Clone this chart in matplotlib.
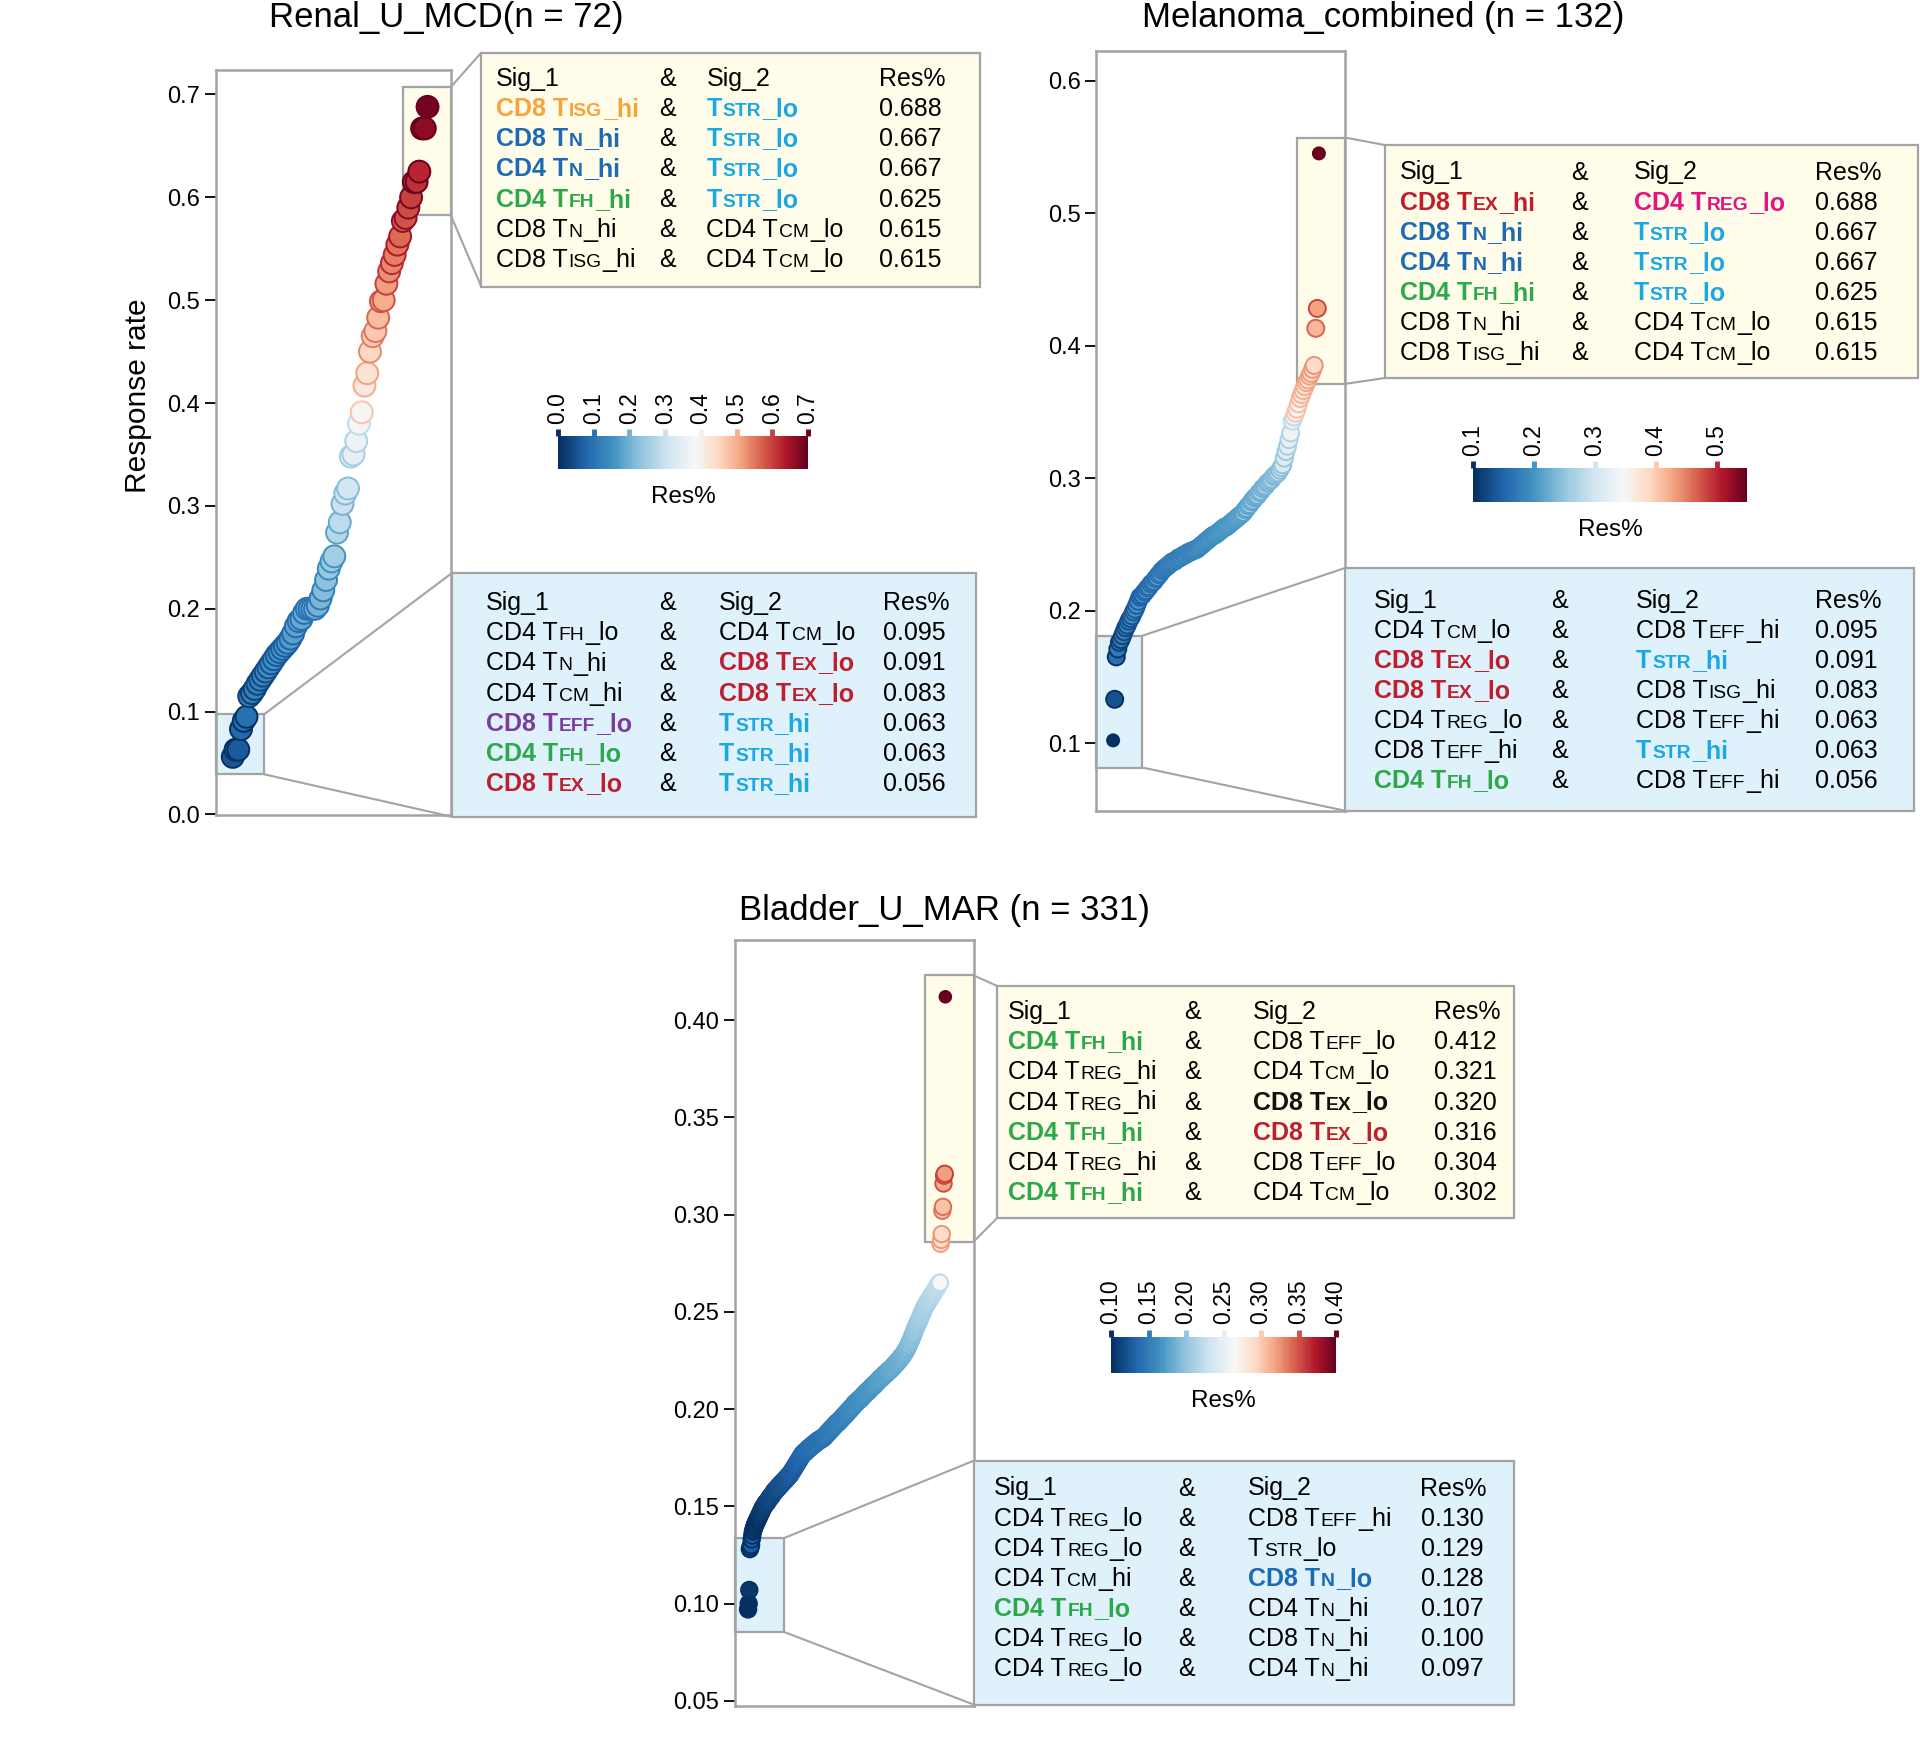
import re
import numpy as np
import matplotlib
matplotlib.use('Agg')
import matplotlib.pyplot as plt
from matplotlib.colors import Normalize, ListedColormap
from matplotlib.patches import Rectangle, ConnectionPatch

plt.rcParams['font.family'] = ['Liberation Sans', 'DejaVu Sans']

# ---------------- data (sorted response rates) ----------------
renal_res = [0.056, 0.063, 0.063, 0.083, 0.091, 0.095,
             0.115, 0.118, 0.122, 0.127, 0.131, 0.135, 0.139, 0.143, 0.147, 0.151, 0.155, 0.158,
             0.161, 0.164, 0.167, 0.171, 0.176, 0.183, 0.188, 0.190,
             0.196, 0.200, 0.200, 0.200, 0.200, 0.203,
             0.210, 0.218, 0.228, 0.239, 0.246, 0.251,
             0.274, 0.284, 0.302, 0.312, 0.317,
             0.348, 0.350, 0.363,
             0.380, 0.391, 0.417, 0.429, 0.450,
             0.465, 0.470, 0.483, 0.499, 0.500, 0.516,
             0.528, 0.536, 0.544, 0.554, 0.562, 0.577,
             0.580, 0.590, 0.600, 0.615, 0.615, 0.625,
             0.667, 0.667, 0.688]

melanoma_res = [0.102, 0.133, 0.165, 0.171, 0.176,
                0.178, 0.181, 0.184, 0.187, 0.189, 0.192, 0.194, 0.196, 0.199, 0.201, 0.204, 0.207, 0.210,
                0.211, 0.212, 0.214, 0.215, 0.217, 0.218, 0.220, 0.221, 0.222, 0.224, 0.225, 0.227, 0.228, 0.230, 0.231,
                0.232, 0.233, 0.234, 0.235, 0.236, 0.237, 0.237, 0.238, 0.239, 0.240, 0.240, 0.241, 0.242, 0.242, 0.243, 0.244, 0.244,
                0.245, 0.245, 0.246, 0.246, 0.247, 0.248, 0.249, 0.250, 0.251, 0.252, 0.253, 0.254, 0.255, 0.256, 0.257, 0.257,
                0.258, 0.259, 0.260, 0.261, 0.262, 0.263, 0.263, 0.264, 0.265, 0.266, 0.267, 0.268, 0.269, 0.270, 0.271, 0.272, 0.273, 0.274,
                0.276, 0.277, 0.279, 0.280, 0.282, 0.283, 0.285, 0.286, 0.287, 0.289, 0.290, 0.292, 0.293,
                0.294, 0.296, 0.297, 0.298, 0.299, 0.301, 0.302, 0.303, 0.304, 0.306, 0.308, 0.310,
                0.315, 0.320, 0.324, 0.329, 0.334, 0.343,
                0.346, 0.349, 0.352, 0.356, 0.360, 0.363, 0.366, 0.369, 0.372,
                0.374, 0.377, 0.379, 0.382, 0.385,
                0.413, 0.428, 0.545]

bladder_res = [0.097, 0.100, 0.107, 0.128, 0.129, 0.130,
               0.133, 0.135, 0.137, 0.138, 0.139, 0.140, 0.141, 0.141, 0.142,
               0.143, 0.143, 0.144, 0.145, 0.145, 0.146, 0.147, 0.147, 0.148, 0.149, 0.149, 0.150, 0.150, 0.151,
               0.151, 0.152, 0.152, 0.152, 0.153, 0.153, 0.154, 0.154, 0.155, 0.155, 0.155, 0.156, 0.156, 0.157, 0.157,
               0.158, 0.158, 0.158, 0.159,
               0.159, 0.159, 0.160, 0.160, 0.160, 0.161, 0.161, 0.161, 0.162, 0.162, 0.162, 0.163, 0.163, 0.163, 0.164,
               0.164, 0.164, 0.165, 0.165, 0.165, 0.166, 0.166, 0.166,
               0.167, 0.167, 0.168, 0.168, 0.169, 0.169, 0.170, 0.170, 0.171, 0.171, 0.172, 0.172, 0.173, 0.173, 0.174,
               0.174, 0.175, 0.175, 0.176, 0.176, 0.177, 0.177, 0.177, 0.178, 0.178,
               0.178, 0.178, 0.179, 0.179, 0.179, 0.180, 0.180, 0.180, 0.180, 0.181, 0.181, 0.181, 0.181, 0.182, 0.182,
               0.182, 0.182, 0.183, 0.183, 0.183, 0.183, 0.184, 0.184, 0.184, 0.184, 0.184, 0.185, 0.185, 0.185, 0.185, 0.185,
               0.186, 0.186, 0.186, 0.187, 0.187, 0.187, 0.188, 0.188, 0.188, 0.189, 0.189, 0.189, 0.190, 0.190, 0.190,
               0.191, 0.191, 0.191, 0.192, 0.192, 0.192, 0.193, 0.193, 0.193, 0.193, 0.194, 0.194, 0.194,
               0.195, 0.195, 0.195, 0.196, 0.196, 0.196, 0.197, 0.197, 0.197, 0.198, 0.198, 0.198, 0.199, 0.199, 0.199,
               0.200, 0.200, 0.200, 0.201, 0.201, 0.201, 0.202, 0.202, 0.203, 0.203,
               0.203, 0.203, 0.204, 0.204, 0.204, 0.205, 0.205, 0.205, 0.205, 0.206, 0.206, 0.206, 0.207, 0.207, 0.207,
               0.208, 0.208, 0.208, 0.209, 0.209, 0.209, 0.209, 0.210, 0.210, 0.210, 0.211, 0.211, 0.211, 0.212, 0.212, 0.212,
               0.212, 0.213, 0.213, 0.213, 0.214, 0.214, 0.214, 0.215, 0.215, 0.215, 0.216, 0.216, 0.216, 0.216,
               0.217, 0.217, 0.217, 0.218, 0.218, 0.218, 0.218, 0.219, 0.219, 0.219, 0.220, 0.220, 0.220, 0.220,
               0.221, 0.221, 0.221, 0.222, 0.222, 0.222, 0.223, 0.223, 0.223, 0.224, 0.224, 0.224, 0.225, 0.225, 0.225,
               0.226, 0.226, 0.227, 0.227, 0.227, 0.228, 0.228, 0.229, 0.229, 0.230,
               0.230, 0.231, 0.231, 0.232, 0.233, 0.233, 0.234, 0.235, 0.235, 0.236, 0.237, 0.238, 0.238, 0.239, 0.240,
               0.241, 0.242,
               0.242, 0.243, 0.244, 0.244, 0.245, 0.246, 0.246, 0.247, 0.248, 0.249, 0.249, 0.250, 0.251, 0.252,
               0.252, 0.253, 0.253, 0.254, 0.254, 0.255, 0.255, 0.256, 0.256, 0.257, 0.257, 0.258, 0.258, 0.259, 0.259,
               0.260, 0.260, 0.261, 0.261, 0.262, 0.262, 0.263, 0.263, 0.264, 0.264, 0.265, 0.265,
               0.285, 0.287, 0.290,
               0.302, 0.304, 0.316, 0.320, 0.321, 0.412]

# table contents ({...} = small caps part)
renal_top_sig1 = ["CD8 T{ISG}_hi", "CD8 T{N}_hi", "CD4 T{N}_hi", "CD4 T{FH}_hi", "CD8 T{N}_hi", "CD8 T{ISG}_hi"]
renal_top_sig2 = ["T{STR}_lo", "T{STR}_lo", "T{STR}_lo", "T{STR}_lo", "CD4 T{CM}_lo", "CD4 T{CM}_lo"]
renal_top_val = [0.688, 0.667, 0.667, 0.625, 0.615, 0.615]
renal_bot_sig1 = ["CD4 T{FH}_lo", "CD4 T{N}_hi", "CD4 T{CM}_hi", "CD8 T{EFF}_lo", "CD4 T{FH}_lo", "CD8 T{EX}_lo"]
renal_bot_sig2 = ["CD4 T{CM}_lo", "CD8 T{EX}_lo", "CD8 T{EX}_lo", "T{STR}_hi", "T{STR}_hi", "T{STR}_hi"]
renal_bot_val = [0.095, 0.091, 0.083, 0.063, 0.063, 0.056]

mel_top_sig1 = ["CD8 T{EX}_hi", "CD8 T{N}_hi", "CD4 T{N}_hi", "CD4 T{FH}_hi", "CD8 T{N}_hi", "CD8 T{ISG}_hi"]
mel_top_sig2 = ["CD4 T{REG}_lo", "T{STR}_lo", "T{STR}_lo", "T{STR}_lo", "CD4 T{CM}_lo", "CD4 T{CM}_lo"]
mel_top_val = [0.688, 0.667, 0.667, 0.625, 0.615, 0.615]
mel_bot_sig1 = ["CD4 T{CM}_lo", "CD8 T{EX}_lo", "CD8 T{EX}_lo", "CD4 T{REG}_lo", "CD8 T{EFF}_hi", "CD4 T{FH}_lo"]
mel_bot_sig2 = ["CD8 T{EFF}_hi", "T{STR}_hi", "CD8 T{ISG}_hi", "CD8 T{EFF}_hi", "T{STR}_hi", "CD8 T{EFF}_hi"]
mel_bot_val = [0.095, 0.091, 0.083, 0.063, 0.063, 0.056]

bla_top_sig1 = ["CD4 T{FH}_hi", "CD4 T{REG}_hi", "CD4 T{REG}_hi", "CD4 T{FH}_hi", "CD4 T{REG}_hi", "CD4 T{FH}_hi"]
bla_top_sig2 = ["CD8 T{EFF}_lo", "CD4 T{CM}_lo", "CD8 T{EX}_lo", "CD8 T{EX}_lo", "CD8 T{EFF}_lo", "CD4 T{CM}_lo"]
bla_top_val = [0.412, 0.321, 0.320, 0.316, 0.304, 0.302]
bla_bot_sig1 = ["CD4 T{REG}_lo", "CD4 T{REG}_lo", "CD4 T{CM}_hi", "CD4 T{FH}_lo", "CD4 T{REG}_lo", "CD4 T{REG}_lo"]
bla_bot_sig2 = ["CD8 T{EFF}_hi", "T{STR}_lo", "CD8 T{N}_lo", "CD4 T{N}_hi", "CD8 T{N}_hi", "CD4 T{N}_hi"]
bla_bot_val = [0.130, 0.129, 0.128, 0.107, 0.100, 0.097]

# highlight colours of the table cells (None = plain black)
renal_top_c1 = ['orange', 'blue', 'blue', 'green', None, None]
renal_top_c2 = ['sky', 'sky', 'sky', 'sky', None, None]
renal_bot_c1 = [None, None, None, 'purple', 'green', 'red']
renal_bot_c2 = [None, 'red', 'red', 'sky', 'sky', 'sky']
mel_top_c1 = ['red', 'blue', 'blue', 'green', None, None]
mel_top_c2 = ['magenta', 'sky', 'sky', 'sky', None, None]
mel_bot_c1 = [None, 'red', 'red', None, None, 'green']
mel_bot_c2 = [None, 'sky', None, None, 'sky', None]
bla_top_c1 = ['green', None, None, 'green', None, 'green']
bla_top_c2 = [None, None, 'black', 'red', None, None]
bla_bot_c1 = [None, None, None, 'green', None, None]
bla_bot_c2 = [None, None, 'blue', None, None, None]

COL = {'orange': '#F8A23A', 'blue': '#1D6AB4', 'sky': '#1AA8E4', 'green': '#2BA84A',
       'red': '#BF1E2D', 'purple': '#7B3C9C', 'magenta': '#E3147E', 'black': '#111111'}

W, H = 1920, 1748
YELLOW = '#FFFDE9'
BLUE = '#DFF1FB'
GREY = '#A3A3A3'
ROW = 30.1

# RdBu_r with the white point moved a bit to the right, like the original palette
base = plt.get_cmap('RdBu_r')
xs = np.linspace(0, 1, 256)
wp = 0.55
cmap = ListedColormap(base(np.where(xs < wp, xs / wp * 0.5, 0.5 + (xs - wp) / (1 - wp) * 0.5)))

fig = plt.figure(figsize=(W / 100, H / 100), dpi=100)
r = fig.canvas.get_renderer()


def fx(x):
    return x / W


def fy(y):
    return 1 - y / H


def rich_text(x, y, spec, col=None, size=18):
    # draws "CD8 T{ISG}_hi" with the braced part in small caps
    color = COL[col] if col else 'black'
    bold = col is not None
    for p in re.split(r'(\{[^}]*\})', spec):
        if not p:
            continue
        small = p.startswith('{')
        t = fig.text(fx(x), fy(y), p.strip('{}'), fontsize=size * 0.77 if small else size,
                     color=color, fontweight='bold' if bold else 'normal', va='baseline', ha='left')
        x += t.get_window_extent(renderer=r).width + 1.0


def draw_table(box, face, cols, boff, sig1, c1, sig2, c2, vals):
    x0, y0, x1, y1 = box
    fig.add_artist(Rectangle((fx(x0), fy(y1)), (x1 - x0) / W, (y1 - y0) / H, transform=fig.transFigure,
                             facecolor=face, edgecolor=GREY, lw=1.6, zorder=1))
    rows = [("Sig_1", None, "Sig_2", None, "Res%")]
    rows += [(a, ca, b, cb, "%.3f" % v) for a, ca, b, cb, v in zip(sig1, c1, sig2, c2, vals)]
    for i, (a, ca, b, cb, v) in enumerate(rows):
        yb = y0 + boff + i * ROW
        rich_text(x0 + cols[0], yb, a, ca)
        rich_text(x0 + cols[1], yb, "&")
        rich_text(x0 + cols[2], yb, b, cb)
        rich_text(x0 + cols[3], yb, v)


def panel(p):
    x0, y0, x1, y1 = p['ax']
    ax = fig.add_axes([fx(x0), fy(y1), (x1 - x0) / W, (y1 - y0) / H])
    y = np.array(p['y'])
    x = np.arange(1, len(y) + 1)
    norm = Normalize(*p['vrange'])
    t = np.clip(norm(y), 0, 1)
    face = cmap(t)
    edge = cmap(np.clip(np.where(t < wp, t - 0.14, t + 0.12), 0, 1))
    sizes = np.full(len(y), p['ms'], dtype=float)
    for i in p['small']:
        sizes[i] = p['ms'] * 0.5
    ax.scatter(x, y, s=sizes, c=face, edgecolors=edge, linewidths=1.4, zorder=3)

    # highlighted ranges
    for (xf0, xf1, lo, hi), fc in [(p['top_rect'], YELLOW), (p['bot_rect'], BLUE)]:
        ax.add_patch(Rectangle((xf0, lo), xf1 - xf0, hi - lo, transform=ax.get_yaxis_transform(),
                               facecolor=fc, edgecolor=GREY, lw=1.6, zorder=1, clip_on=False))

    ax.set_xlim(*p['xlim'])
    ax.set_ylim(*p['ylim'])
    ax.set_xticks([])
    ax.set_yticks(p['yticks'])
    ax.set_yticklabels([p['fmt'] % v for v in p['yticks']])
    ax.tick_params(axis='y', labelsize=17, length=8, width=1.3, pad=3)
    for s in ax.spines.values():
        s.set_color(GREY)
        s.set_linewidth(1.8)
    if p.get('ylabel'):
        ax.set_ylabel(p['ylabel'], fontsize=21.5)
        ax.yaxis.set_label_coords(-0.27, 0.563)
    fig.text(fx(p['title_xy'][0]), fy(p['title_xy'][1]), p['title'], fontsize=25, ha='center', va='center')

    # tables and connector lines
    draw_table(p['top_box'], YELLOW, p['top_cols'], p['top_base'], *p['top_tab'])
    draw_table(p['bot_box'], BLUE, p['bot_cols'], p['bot_base'], *p['bot_tab'])
    for rect, box in [(p['top_rect'], p['top_box']), (p['bot_rect'], p['bot_box'])]:
        for yv, yp in [(rect[3], box[1]), (rect[2], box[3])]:
            con = ConnectionPatch(xyA=(rect[1], yv), coordsA=ax.get_yaxis_transform(),
                                  xyB=(fx(box[0]), fy(yp)), coordsB=fig.transFigure,
                                  color=GREY, lw=1.5, zorder=1)
            fig.add_artist(con)

    # colour bar, with little coloured tick marks on top
    cx0, cy0, cx1, cy1 = p['cbar']
    cax = fig.add_axes([fx(cx0), fy(cy1), (cx1 - cx0) / W, (cy1 - cy0) / H])
    sm = plt.cm.ScalarMappable(norm=norm, cmap=cmap)
    cb = fig.colorbar(sm, cax=cax, orientation='horizontal')
    cb.outline.set_visible(False)
    cb.set_ticks(p['cticks'])
    cb.set_ticklabels([p['cfmt'] % v for v in p['cticks']])
    cax.xaxis.set_ticks_position('top')
    cax.xaxis.set_label_position('bottom')
    cax.tick_params(axis='x', length=0, labelsize=16.5, labelrotation=90, pad=9)
    tcol = [cmap(norm(v)) for v in p['cticks']]
    cax.vlines(p['cticks'], 1.0, 1.2, colors=tcol, lw=3.5, transform=cax.get_xaxis_transform(),
               clip_on=False)
    cax.set_xlabel('Res%', fontsize=17.5, labelpad=12)
    return ax


panels = [
    dict(y=renal_res, title='Renal_U_MCD(n = 72)', title_xy=(446, 18), ylabel='Response rate',
         ax=(215.5, 69.8, 450.6, 815.5), xlim=(-5.3, 80.4), ylim=(-0.001, 0.724),
         yticks=[0.0, 0.1, 0.2, 0.3, 0.4, 0.5, 0.6, 0.7], fmt='%.1f', ms=250, small=[],
         vrange=(0.0, 0.7), cticks=[0.0, 0.1, 0.2, 0.3, 0.4, 0.5, 0.6, 0.7], cfmt='%.1f',
         cbar=(558, 436, 808, 469),
         top_rect=(0.797, 1.0, 0.583, 0.707), bot_rect=(0.0, 0.208, 0.039, 0.0976),
         top_box=(481.2, 52.7, 979.6, 286.5), top_cols=(14.7, 177.6, 225.3, 398), top_base=33.5,
         bot_box=(451.8, 573.1, 975.9, 816.7), bot_cols=(34.3, 207.5, 267, 431), bot_base=37.2,
         top_tab=(renal_top_sig1, renal_top_c1, renal_top_sig2, renal_top_c2, renal_top_val),
         bot_tab=(renal_bot_sig1, renal_bot_c1, renal_bot_sig2, renal_bot_c2, renal_bot_val)),
    dict(y=melanoma_res, title='Melanoma_combined (n = 132)', title_xy=(1383, 18),
         ax=(1096, 51.4, 1344.5, 810.6), xlim=(-9.9, 148.3), ylim=(0.049, 0.622),
         yticks=[0.1, 0.2, 0.3, 0.4, 0.5, 0.6], fmt='%.1f', ms=150, small=[0, 131],
         vrange=(0.1, 0.55), cticks=[0.1, 0.2, 0.3, 0.4, 0.5], cfmt='%.1f',
         cbar=(1473, 468, 1747, 502),
         top_rect=(0.808, 1.0, 0.371, 0.557), bot_rect=(0.0, 0.187, 0.0815, 0.181),
         top_box=(1384.9, 145, 1917.6, 378), top_cols=(14.7, 186.1, 248.6, 429.8), top_base=34.5,
         bot_box=(1344.5, 568.2, 1913.9, 810.6), bot_cols=(29.4, 206.9, 291.4, 470.2), bot_base=39.6,
         top_tab=(mel_top_sig1, mel_top_c1, mel_top_sig2, mel_top_c2, mel_top_val),
         bot_tab=(mel_bot_sig1, mel_bot_c1, mel_bot_sig2, mel_bot_c2, mel_bot_val)),
    dict(y=bladder_res, title='Bladder_U_MAR (n = 331)', title_xy=(944.7, 911),
         ax=(734.7, 940.4, 973.5, 1705.7), xlim=(-21.4, 378.1), ylim=(0.0475, 0.441),
         yticks=[0.05, 0.10, 0.15, 0.20, 0.25, 0.30, 0.35, 0.40], fmt='%.2f', ms=140, small=[330],
         vrange=(0.1, 0.4), cticks=[0.10, 0.15, 0.20, 0.25, 0.30, 0.35, 0.40], cfmt='%.2f',
         cbar=(1111, 1337, 1336, 1373),
         top_rect=(0.795, 1.0, 0.286, 0.423), bot_rect=(0.0, 0.205, 0.0855, 0.1336),
         top_box=(996.7, 985.7, 1513.5, 1218.4), top_cols=(11, 187.3, 255.9, 437.1), top_base=33.5,
         bot_box=(973.5, 1460.8, 1513.5, 1704.5), bot_cols=(20.8, 204.5, 274.3, 447), bot_base=34.7,
         top_tab=(bla_top_sig1, bla_top_c1, bla_top_sig2, bla_top_c2, bla_top_val),
         bot_tab=(bla_bot_sig1, bla_bot_c1, bla_bot_sig2, bla_bot_c2, bla_bot_val)),
]

for p in panels:
    panel(p)

fig.savefig('out.png', dpi=100)
